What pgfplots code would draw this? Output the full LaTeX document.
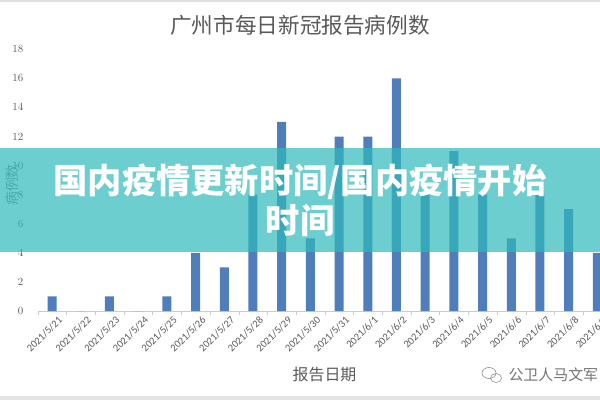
\documentclass[border=0pt]{standalone}
\usepackage{fontspec}
\usepackage{pgfplots}
\pgfplotsset{compat=1.18}
\usetikzlibrary{calc}
\setmainfont{Carlito}
\newfontfamily\cjk{Noto Sans CJK SC}
\definecolor{barblue}{HTML}{4F7EBB}
\definecolor{bannerc}{RGB}{45,185,185}
\definecolor{txtgray}{HTML}{595959}
\pgfplotstableread{
x y
0 1
1 0
2 1
3 0
4 1
5 4
6 3
7 8
8 13
9 5
10 12
11 12
12 16
13 8
14 11
15 8
16 5
17 8
18 7
19 4
}\casestable
\begin{document}
\begin{tikzpicture}[x=1bp,y=1bp]
\begin{axis}[
  scale only axis, width=574bp, height=261.7bp,
  xmin=-0.5, xmax=19.5, ymin=0, ymax=18,
  axis x line*=bottom, axis y line*=left,
  x axis line style={-, draw=black!20},
  y axis line style={draw=none},
  ybar, bar width=9bp,
  xtick={0,...,19},
  xticklabels={2021/5/21,2021/5/22,2021/5/23,2021/5/24,2021/5/25,2021/5/26,2021/5/27,2021/5/28,2021/5/29,2021/5/30,2021/5/31,2021/6/1,2021/6/2,2021/6/3,2021/6/4,2021/6/5,2021/6/6,2021/6/7,2021/6/8,2021/6/9},
  minor xtick={-0.5,0.5,...,19.5},
  major x tick style={draw=none},
  minor x tick style={draw=black!20},
  minor tick length=4bp,
  tick align=outside,
  ytick={0,2,...,18},
  ytick style={draw=none},
  xticklabel style={rotate=45, anchor=north east, font=\fontsize{10.5}{10.5}\selectfont, text=txtgray, inner sep=0pt, xshift=4bp, yshift=-4bp},
  yticklabel style={font=\fontsize{10.5}{10.5}\selectfont, text=txtgray, anchor=east, inner sep=0pt, xshift=-10bp},
  clip=false,
]
\addplot[fill=barblue, draw=none] table[x=x,y=y]{\casestable};
\coordinate (O) at (axis cs:-0.5,0);
\end{axis}
\pgfresetboundingbox
\begin{scope}[shift={($(O)+(-37.7,-89)$)}]
\useasboundingbox (0,0) rectangle (600,400);
\fill[black!12] (0,398) rectangle (600,400);
\fill[black!10] (0,0) rectangle (600,4);
\node[font=\cjk\fontsize{21.7}{21.7}\selectfont, text=txtgray] at (300,375) {广州市每日新冠报告病例数};
\node[font=\cjk\fontsize{16}{16}\selectfont, text=txtgray] at (324.5,25) {报告日期};
\node[rotate=90, font=\cjk\fontsize{14}{14}\selectfont, text=black!45] at (12,215) {病例数};
\node[font=\cjk\fontsize{15}{15}\selectfont, text=black!55, anchor=west] at (505,25) {公卫人马文军};
\draw[black!45, line width=0.6bp] (489,27) ellipse (7 and 5.5);
\draw[black!45, line width=0.6bp] (496,22) ellipse (5.5 and 4.5);
\fill[bannerc, opacity=0.7] (0,148) rectangle (600,252);
\node[text=white, font=\cjk\bfseries\fontsize{34.4}{40}\selectfont, align=center] at (300,200) {国内疫情更新时间/国内疫情开始\\时间};
\end{scope}
\end{tikzpicture}
\end{document}
